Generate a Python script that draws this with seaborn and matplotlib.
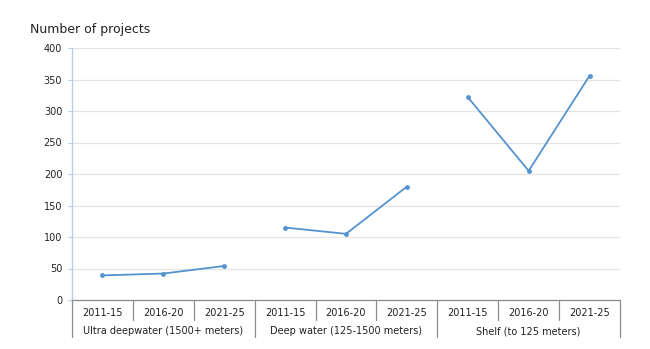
import matplotlib
matplotlib.use("Agg")
import matplotlib.pyplot as plt
import matplotlib.transforms as mtransforms
import seaborn as sns
import pandas as pd

groups = ["Ultra deepwater (1500+ meters)", "Deep water (125-1500 meters)", "Shelf (to 125 meters)"]
periods = ["2011-15", "2016-20", "2021-25"]
ultra = [39, 42, 54]
deep = [115, 105, 180]
shelf = [322, 205, 356]
values = [ultra, deep, shelf]

rows = []
for gi, (g, vals) in enumerate(zip(groups, values)):
    for pi, (p, v) in enumerate(zip(periods, vals)):
        rows.append({"group": g, "period": p, "pos": gi * len(periods) + pi, "value": v})
df = pd.DataFrame(rows)

sns.set_theme(style="white")
plt.rcParams["font.family"] = ["DejaVu Sans"]

fig = plt.figure(figsize=(6.5, 3.49), dpi=100)
ax = fig.add_axes([72 / 650, 1 - 300 / 349, (620 - 72) / 650, 252 / 349])

color = "#5592d0"
sns.lineplot(data=df, x="pos", y="value", units="group", estimator=None,
             color=color, marker="o", markersize=3.5, markeredgewidth=0,
             linewidth=1.3, ax=ax, legend=False)

ax.set_xlim(-0.5, 8.5)
ax.set_ylim(0, 400)
ax.set_yticks(range(0, 401, 50))
ax.yaxis.grid(True, color="#e4e4e4", linewidth=0.9)
ax.set_axisbelow(True)
ax.set_xlabel("")
ax.set_ylabel("")

ax.set_xticks(df["pos"])
ax.set_xticklabels(df["period"], fontsize=7, color="#222222")
ax.tick_params(axis="x", length=0, pad=6)
ax.tick_params(axis="y", length=3, width=0.8, color="#b8cfe6", labelsize=7,
               labelcolor="#222222", pad=4, left=True)

for side in ["top", "right"]:
    ax.spines[side].set_visible(False)
ax.spines["left"].set_color("#b8cfe6")
ax.spines["left"].set_linewidth(1.0)
ax.spines["bottom"].set_color("#8c8c8c")
ax.spines["bottom"].set_linewidth(0.9)

trans = mtransforms.blended_transform_factory(ax.transData, ax.transAxes)
n = len(periods)
# short separators between periods
for gi in range(len(groups)):
    for k in range(1, n):
        x = gi * n + k - 0.5
        ax.plot([x, x], [0, -20 / 252], transform=trans, color="#8c8c8c",
                linewidth=0.9, clip_on=False)
# long separators between groups
for gi in range(len(groups) + 1):
    x = gi * n - 0.5
    ax.plot([x, x], [0, -37 / 252], transform=trans, color="#8c8c8c",
            linewidth=0.9, clip_on=False)
# group labels
for gi, g in enumerate(groups):
    ax.text(gi * n + (n - 1) / 2, -31 / 252, g, transform=trans, ha="center",
            va="center", fontsize=7, color="#222222")

fig.text(30 / 650, 1 - 30 / 349, "Number of projects", ha="left", va="center",
         fontsize=9, color="#222222")

fig.savefig("out.png", dpi=100, facecolor="white")
